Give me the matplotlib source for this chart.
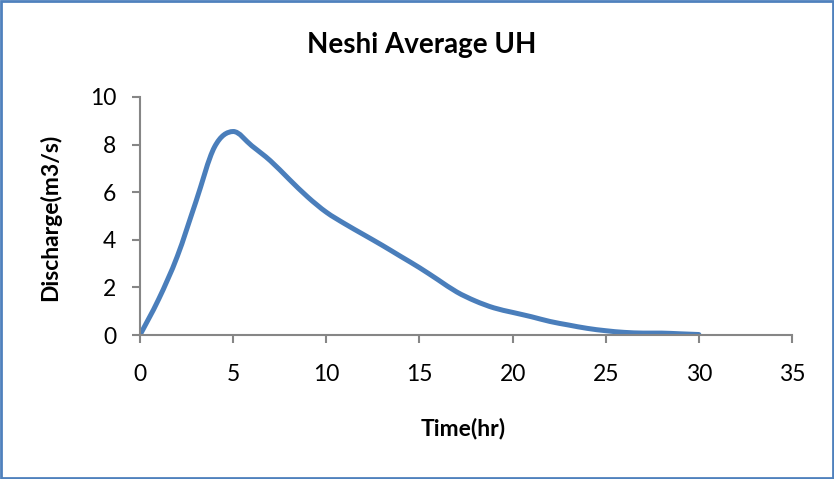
import matplotlib
matplotlib.use("Agg")
import matplotlib.pyplot as plt
from matplotlib.path import Path
from matplotlib.patches import PathPatch, Rectangle
import numpy as np

plt.rcParams['font.family'] = ['Lato', 'DejaVu Sans']

title = "Neshi Average UH"
xlabel = "Time(hr)"
ylabel = "Discharge(m3/s)"

time_hr = [0, 1, 2, 3, 4, 5, 6, 7, 8, 9, 10, 11, 12, 13, 14, 15, 16, 17, 18, 19, 20,
           21, 22, 23, 24, 25, 26, 27, 28, 29, 30]
discharge = [0.0, 1.5, 3.3, 5.6, 7.9, 8.55, 7.95, 7.32, 6.55, 5.8, 5.16, 4.67, 4.22, 3.77,
             3.3, 2.83, 2.32, 1.81, 1.43, 1.14, 0.95, 0.77, 0.57, 0.42, 0.28, 0.18, 0.11,
             0.08, 0.08, 0.05, 0.02]

xticks = [0, 5, 10, 15, 20, 25, 30, 35]
yticks = [0, 2, 4, 6, 8, 10]

fig = plt.figure(figsize=(8.34, 4.79), dpi=100)
ax = fig.add_axes([140/834, 1-335/479, (792-140)/834, (335-97)/479])

# Excel-style smoothed line: cubic Bezier through data points
x = np.array(time_hr, float)
y = np.array(discharge, float)
n = len(x)
verts = [(x[0], y[0])]
codes = [Path.MOVETO]
for i in range(n - 1):
    p0 = np.array([x[max(i-1, 0)], y[max(i-1, 0)]])
    p1 = np.array([x[i], y[i]])
    p2 = np.array([x[i+1], y[i+1]])
    p3 = np.array([x[min(i+2, n-1)], y[min(i+2, n-1)]])
    c1 = p1 + (p2 - p0) / 6.0
    c2 = p2 - (p3 - p1) / 6.0
    verts += [tuple(c1), tuple(c2), tuple(p2)]
    codes += [Path.CURVE4] * 3
patch = PathPatch(Path(verts, codes), facecolor='none', edgecolor='#4A7EBB',
                  linewidth=3.6, capstyle='round', joinstyle='round')
ax.add_patch(patch)

ax.set_xlim(0, 35)
ax.set_ylim(0, 10)
ax.set_xticks(xticks)
ax.set_yticks(yticks)
ax.set_xticklabels([str(v) for v in xticks])
ax.set_yticklabels([str(v) for v in yticks])
for s in ['top', 'right']:
    ax.spines[s].set_visible(False)
for s in ['left', 'bottom']:
    ax.spines[s].set_color('#868686')
    ax.spines[s].set_linewidth(1.5)
ax.tick_params(axis='both', direction='out', length=6, width=1.5, color='#868686',
               labelsize=16.5, labelcolor='black')
ax.tick_params(axis='y', pad=11)
ax.tick_params(axis='x', pad=15)

fig.text(422/834, 1-53/479, title, ha='center', va='baseline', fontsize=20, fontweight='bold')
fig.text(463/834, 1-435/479, xlabel, ha='center', va='baseline', fontsize=16.5, fontweight='bold')
fig.text(50/834, 1-217/479, ylabel, ha='center', va='center', rotation=90,
         fontsize=16.5, fontweight='bold')

fig.patches.append(Rectangle((0.0015, 0.0025), 0.997, 0.995, transform=fig.transFigure,
                             fill=False, edgecolor='#4F81BD', linewidth=2.0))

fig.savefig("out.png", dpi=100)
